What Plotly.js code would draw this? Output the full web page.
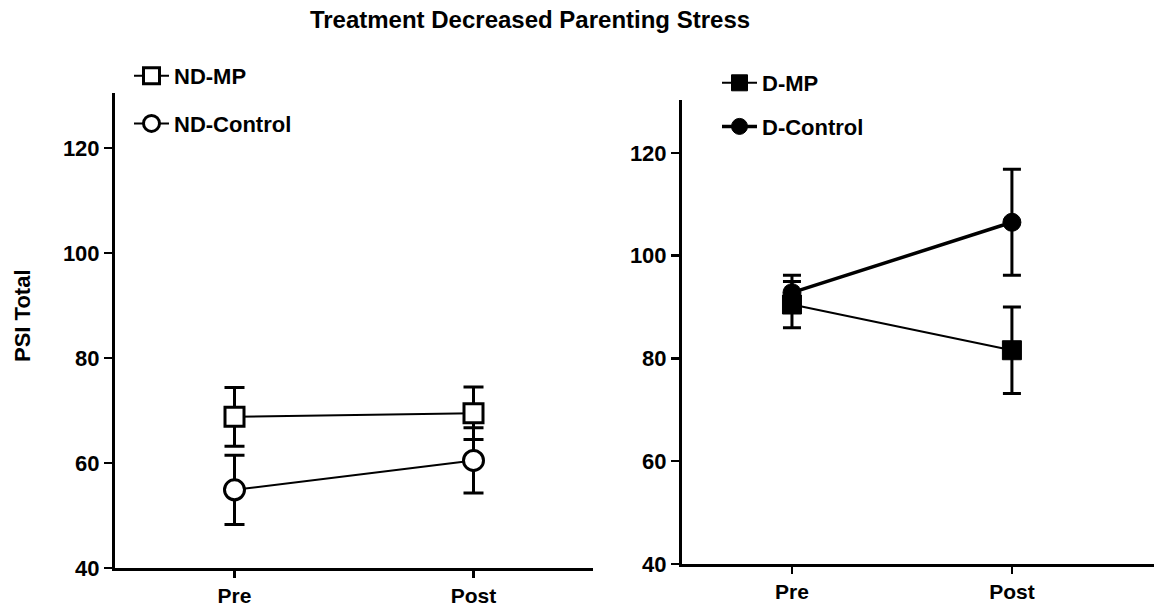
<!DOCTYPE html>
<html>
<head>
<meta charset="utf-8">
<script src="https://cdn.plot.ly/plotly-3.0.1.min.js"></script>
<style>html,body{margin:0;padding:0;background:#fff;}#chart{width:1154px;height:610px;}</style>
</head>
<body>
<div id="chart"></div>
<script>
const categories = ['Pre', 'Post'];
const yTicks = [40, 60, 80, 100, 120];

const ndMP = [68.8, 69.5];
const ndMPErr = [5.6, 5.0];
const ndControl = [54.9, 60.5];
const ndControlErr = [6.6, 6.2];

const dMP = [90.5, 81.6];
const dMPErr = [4.5, 8.4];
const dControl = [92.8, 106.5];
const dControlErr = [3.4, 10.3];

const FONT = 'Liberation Sans, Arial, sans-serif';
const W = 1154, H = 610;
const px = v => v / W;
const py = v => 1 - v / H;

function errY(arr) {
  return {type: 'data', array: arr, visible: true, color: '#000', thickness: 3, width: 10};
}

const traces = [
  {
    x: categories, y: ndControl, name: 'ND-Control', xaxis: 'x', yaxis: 'y',
    mode: 'lines+markers', legend: 'legend', legendgroup: 'ndc', legendrank: 2,
    line: {color: '#000', width: 2},
    marker: {symbol: 'circle', size: 20, color: '#fff', line: {color: '#000', width: 3}},
    error_y: errY(ndControlErr)
  },
  {
    x: categories, y: ndMP, name: 'ND-MP', xaxis: 'x', yaxis: 'y',
    mode: 'lines+markers', legend: 'legend', legendgroup: 'ndmp', legendrank: 1,
    line: {color: '#000', width: 2},
    marker: {symbol: 'square', size: 19, color: '#fff', line: {color: '#000', width: 3}},
    error_y: errY(ndMPErr)
  },
  {
    x: categories, y: dControl, name: 'D-Control', xaxis: 'x2', yaxis: 'y2',
    mode: 'lines+markers', legend: 'legend2', legendgroup: 'dc', legendrank: 2,
    line: {color: '#000', width: 3.5},
    marker: {symbol: 'circle', size: 18, color: '#000', line: {color: '#000', width: 1}},
    error_y: Object.assign(errY(dControlErr), {width: 9})
  },
  {
    x: categories, y: dMP, name: 'D-MP', xaxis: 'x2', yaxis: 'y2',
    mode: 'lines+markers', legend: 'legend2', legendgroup: 'dmp', legendrank: 1,
    line: {color: '#000', width: 2},
    marker: {symbol: 'square', size: 19, color: '#000', line: {color: '#000', width: 1}},
    error_y: Object.assign(errY(dMPErr), {width: 9})
  }
];

const xCommon = {
  type: 'category', showline: true, linecolor: '#000', linewidth: 3,
  ticks: 'outside', ticklen: 7, tickwidth: 2.5, tickcolor: '#000',
  showgrid: false, zeroline: false, fixedrange: true,
  tickfont: {family: FONT, size: 21, color: '#000', weight: 'bold'}
};
const yCommon = {
  showline: true, linecolor: '#000', linewidth: 3,
  ticks: 'outside', ticklen: 8, tickwidth: 2.5, tickcolor: '#000',
  showgrid: false, zeroline: false, fixedrange: true,
  tickmode: 'array', tickvals: yTicks, ticktext: yTicks.map(String),
  tickfont: {family: FONT, size: 22, color: '#000', weight: 'bold'}
};

const legendCommon = {
  xanchor: 'left', yanchor: 'top', bgcolor: 'rgba(0,0,0,0)',
  font: {family: FONT, size: 22, color: '#000', weight: 'bold'},
  traceorder: 'grouped', itemwidth: 35
};

const layout = {
  width: W, height: H,
  margin: {l: 0, r: 0, t: 0, b: 0},
  paper_bgcolor: '#fff', plot_bgcolor: '#fff',
  showlegend: true,
  title: {
    text: 'Treatment Decreased Parenting Stress',
    font: {family: FONT, size: 24, color: '#000', weight: 'bold'},
    x: px(530), xref: 'paper', xanchor: 'center',
    y: py(20), yref: 'container', yanchor: 'middle'
  },
  xaxis: Object.assign({}, xCommon, {domain: [px(115), px(593)], range: [-0.5, 1.5], anchor: 'y'}),
  yaxis: Object.assign({}, yCommon, {domain: [1 - 568 / H, 1 - 93 / H], range: [40, 130.5], anchor: 'x'}),
  xaxis2: Object.assign({}, xCommon, {domain: [px(682), 1], range: [-0.5, 1.646], anchor: 'y2'}),
  yaxis2: Object.assign({}, yCommon, {domain: [1 - 564 / H, 1 - 100 / H], range: [40, 130.3], anchor: 'x2'}),
  legend: Object.assign({}, legendCommon, {x: px(129), y: py(55), tracegroupgap: 16}),
  legend2: Object.assign({}, legendCommon, {x: px(717), y: py(62), tracegroupgap: 12}),
  annotations: [{
    text: 'PSI Total', textangle: -90, showarrow: false,
    xref: 'paper', yref: 'paper', x: px(22), y: py(316),
    xanchor: 'center', yanchor: 'middle',
    font: {family: FONT, size: 22, color: '#000', weight: 'bold'}
  }]
};

Plotly.newPlot('chart', traces, layout, {displayModeBar: false, staticPlot: true});
</script>
</body>
</html>
